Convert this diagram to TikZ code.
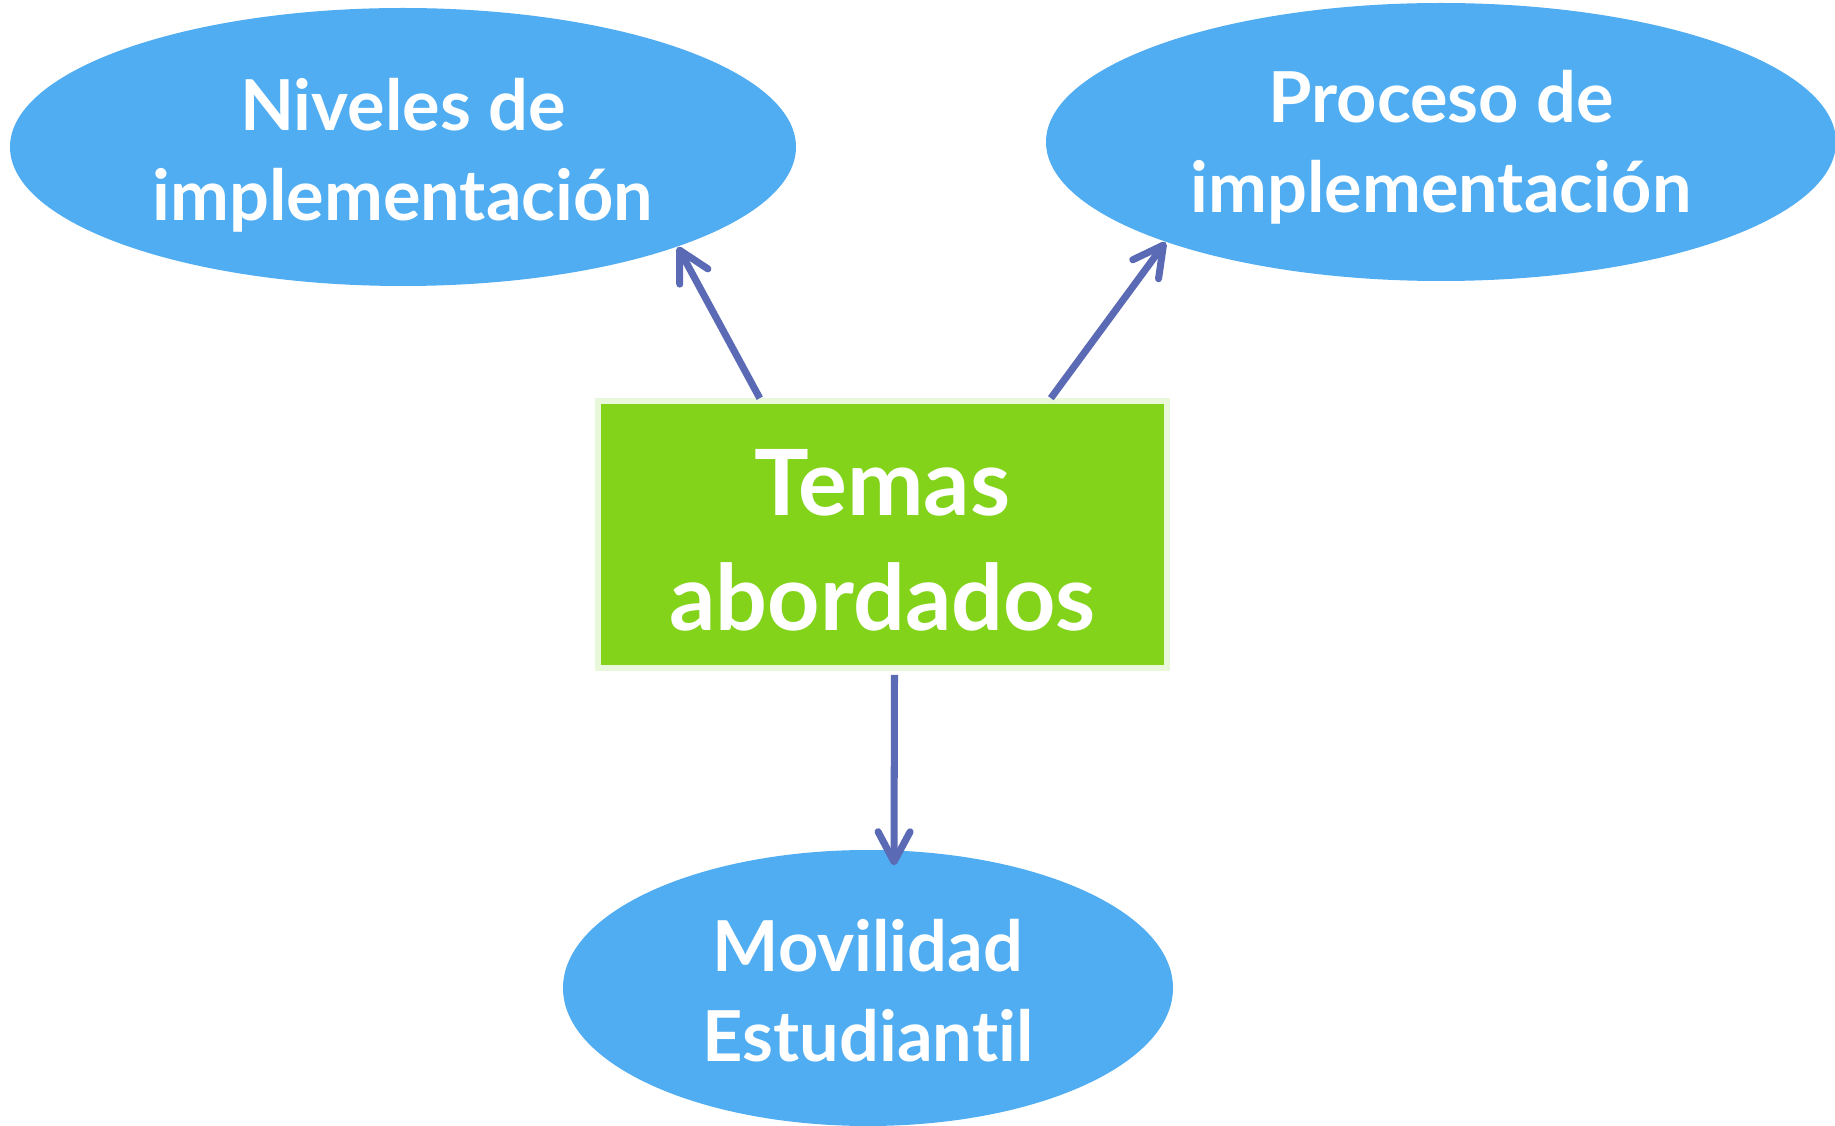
\documentclass[tikz,border=0pt]{standalone}
\usepackage{fontspec}
\setmainfont{Lato}[Ligatures=CommonOff]
\usetikzlibrary{shapes.geometric}
\usetikzlibrary{arrows.meta}
\definecolor{burbuja}{HTML}{50ADF2}
\definecolor{verde}{HTML}{82D31A}
\definecolor{bordeverde}{HTML}{E9F8DA}
\definecolor{flecha}{HTML}{5B6AB4}
% strut to push the text block a little lower inside its shape
\newcommand{\bajar}[1]{\rule{0pt}{\dimexpr\fontcharht\font`l+#1\relax}}
\tikzset{
  tema/.style={ellipse,fill=burbuja,draw=none,text=white,align=center,inner sep=0pt,font=\fontsize{20}{25.6}\selectfont\bfseries},
  conector/.style={draw=flecha,line width=2pt,-{Straight Barb[length=3mm,width=3.2mm,round]}}
}
\begin{document}
\begin{tikzpicture}
\useasboundingbox (0,0) rectangle (18.35,11.25);
\fill[white] (0,0) rectangle (18.35,11.25);

\node[tema,minimum width=7.86cm,minimum height=2.78cm] (niveles) at (4.03,9.78) {\bajar{0.18cm}Niveles de\\implementación};
\node[tema,minimum width=7.9cm,minimum height=2.78cm] (proceso) at (14.41,9.83) {\bajar{0.12cm}Proceso de\\implementación};
\node[tema,minimum width=6.1cm,minimum height=2.76cm] (movilidad) at (8.68,1.37) {\bajar{0.07cm}Movilidad\\Estudiantil};

\node[rectangle,fill=verde,draw=bordeverde,line width=1.6pt,minimum width=5.69cm,minimum height=2.67cm,text=white,align=center,font=\fontsize{26}{32.6}\selectfont\bfseries] (temas) at (8.825,5.905) {\bajar{0.12cm}Temas\\abordados};

\draw[conector] (temas.132) -- (niveles.-20);
\draw[conector] (temas.39) -- (proceso.200);
\draw[conector] ([xshift=0.12cm,yshift=-0.04cm]temas.south) -- ([xshift=0.26cm,yshift=-0.16cm]movilidad.north);

\end{tikzpicture}
\end{document}
